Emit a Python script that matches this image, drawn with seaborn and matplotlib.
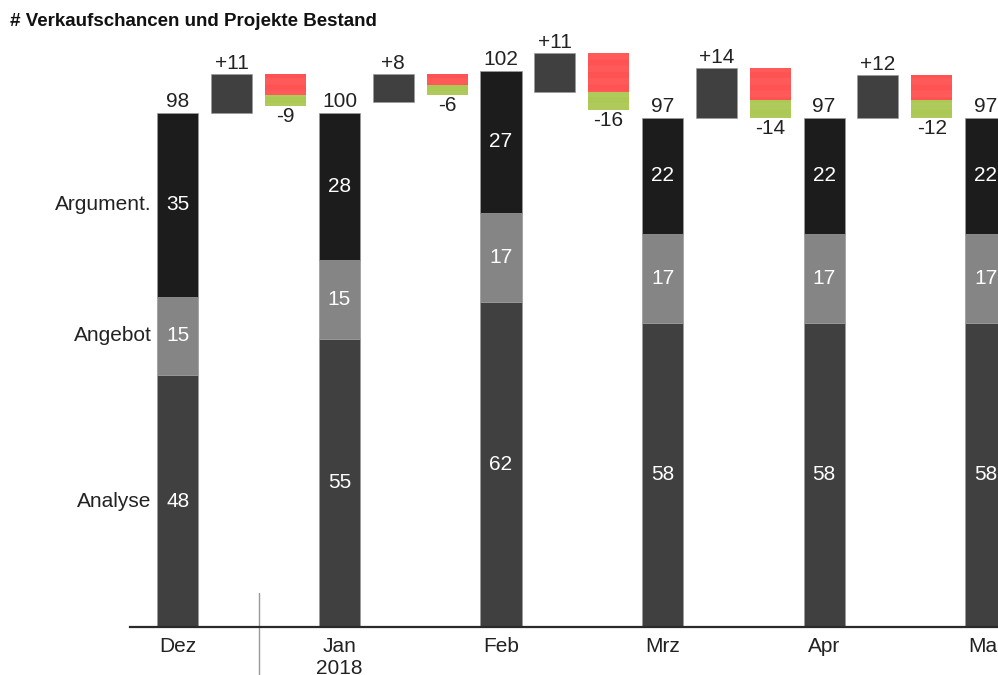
import matplotlib
matplotlib.use("Agg")
import matplotlib.pyplot as plt
import numpy as np
import pandas as pd
import seaborn as sns

# --- data -------------------------------------------------------------
months = ["Dez", "Jan\n2018", "Feb", "Mrz", "Apr", "Mai"]
stages = ["Analyse", "Angebot", "Argument."]
analyse = [48, 55, 62, 58, 58, 58]
angebot = [15, 15, 17, 17, 17, 17]
argument = [35, 28, 27, 22, 22, 22]
totals = [98, 100, 102, 97, 97, 97]

# monthly movement between two stock dates
zugang = [11, 8, 11, 14, 12]       # new opportunities
verloren = [6, 3, 11, 9, 7]        # lost
gewonnen = [3, 3, 5, 5, 5]         # won / closed

title = "# Verkaufschancen und Projekte Bestand"

# --- style ------------------------------------------------------------
stage_colors = ["#404040", "#858585", "#1c1c1c"]
plus_color = "#404040"
red = "#ff2a2a"
green = "#98bc2c"
BAR_W = 0.254
DELTA_SCALE = 0.68
FS = 15

sns.set_theme(style="white")
plt.rcParams["font.family"] = ["Liberation Sans", "DejaVu Sans"]
plt.rcParams["hatch.linewidth"] = 0.35

fig = plt.figure(figsize=(9.98, 6.75), dpi=100)
ax = fig.add_axes([130 / 998, 48 / 675, 868 / 998, 587 / 675])

df = pd.DataFrame({"Monat": months, "Analyse": analyse,
                   "Angebot": angebot, "Argument.": argument})

# stacked stock bars
bottom = np.zeros(len(months))
for stage, color in zip(stages, stage_colors):
    vals = df[stage].to_numpy(dtype=float)
    sns.barplot(data=df, x="Monat", y=stage, order=months, color=color,
                saturation=1, width=BAR_W, bottom=bottom.copy(),
                errorbar=None, ax=ax, edgecolor="#9a9a9a", linewidth=0.5)
    for i, v in enumerate(vals):
        ax.text(i, bottom[i] + v / 2, f"{int(v)}", ha="center", va="center",
                color="white", fontsize=FS)
    # stage names beside the first bar
    ax.text(-BAR_W / 2 - 0.035, bottom[0] + vals[0] / 2, stage,
            ha="right", va="center", fontsize=FS, color="#222222",
            clip_on=False)
    bottom += vals

# total labels above the bars
for i, t in enumerate(totals):
    ax.text(i, bottom[i] + 0.4, f"{t}", ha="center", va="bottom",
            fontsize=FS, color="#222222")

# movement boxes between the months
hatch = "-" * 18
stripe = (1, 1, 1, 0.4)
for i in range(len(zugang)):
    base = totals[i]
    xp, xm = i + 1 / 3, i + 2 / 3
    h_plus = zugang[i] * DELTA_SCALE
    top = base + h_plus
    ax.bar(xp, h_plus, bottom=base, width=BAR_W, color=plus_color,
           edgecolor="#9a9a9a", linewidth=0.5)
    ax.text(xp, top + 0.2, f"+{zugang[i]}", ha="center", va="bottom",
            fontsize=FS, color="#222222")
    h_red = verloren[i] * DELTA_SCALE
    h_green = gewonnen[i] * DELTA_SCALE
    ax.bar(xm, h_red, bottom=top - h_red, width=BAR_W, color=red,
           hatch=hatch, edgecolor=stripe, linewidth=0)
    ax.bar(xm, h_green, bottom=top - h_red - h_green, width=BAR_W,
           color=green, hatch=hatch, edgecolor=stripe, linewidth=0)
    ax.text(xm, top - h_red - h_green - 0.2,
            f"-{verloren[i] + gewonnen[i]}", ha="center", va="top",
            fontsize=FS, color="#222222")

# axes
ax.set_xlim(-0.297, 5.077)
ax.set_ylim(0, 587 / 5.245)
ax.set_xlabel("")
ax.set_ylabel("")
ax.set_yticks([])
ax.set_xticks(range(len(months)), months)
ax.tick_params(axis="x", length=0, pad=7, labelsize=FS, labelcolor="#222222")
for side in ["left", "right", "top"]:
    ax.spines[side].set_visible(False)
ax.spines["bottom"].set_color("#2a2a2a")
ax.spines["bottom"].set_linewidth(1.6)

# year separator
ax.plot([0.5, 0.5], [-0.085, 0.058], transform=ax.get_xaxis_transform(),
        color="#999999", lw=1, clip_on=False)

fig.text(10 / 998, 1 - 22 / 675, title, fontsize=13.5, fontweight="bold",
         ha="left", va="center", color="#111111")

fig.savefig("out.png", dpi=100)
